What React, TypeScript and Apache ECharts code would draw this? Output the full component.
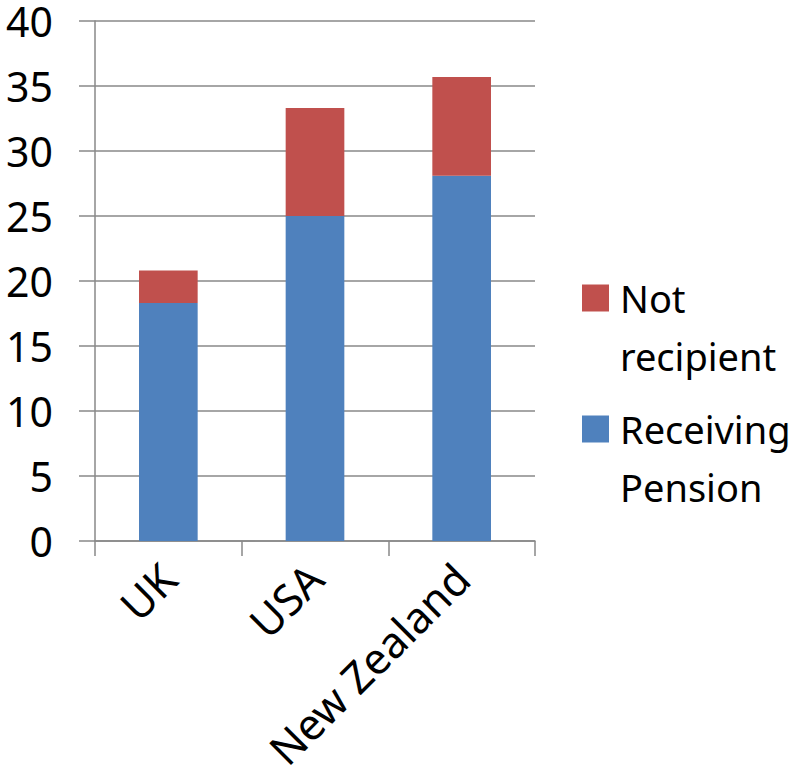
import React, { useEffect, useRef } from "react";
import * as echarts from "echarts";

const categories = ["UK", "USA", "New Zealand"];
const receivingPension = [18.3, 25.0, 28.1];
const notRecipient = [2.5, 8.3, 7.6];
const yTicks = { min: 0, max: 40, interval: 5 };

const FONT = "'Noto Sans', sans-serif";

export default function App() {
  const ref = useRef<HTMLDivElement>(null);
  useEffect(() => {
    if (!ref.current) return;
    const chart = echarts.init(ref.current, undefined, { renderer: "svg" });
    chart.setOption({
      animation: false,
      textStyle: { fontFamily: FONT },
      grid: { left: 95, right: 271, top: 21, bottom: 241, containLabel: false },
      legend: {
        orient: "vertical",
        left: 582,
        top: 211,
        padding: 0,
        itemGap: -43,
        itemWidth: 27,
        itemHeight: 27,
        icon: "rect",
        data: ["Not recipient", "Receiving Pension"],
        formatter: (name: string) => " \n" + name.replace(" ", "\n"),
        textStyle: {
          fontFamily: FONT,
          fontSize: 38,
          color: "#000",
          lineHeight: 58,
          padding: [0, 0, 0, 6],
        },
      },
      xAxis: {
        type: "category",
        data: categories,
        axisLine: { lineStyle: { color: "#888", width: 1.5 } },
        axisTick: { show: true, length: 15, lineStyle: { color: "#888", width: 1.5 } },
        axisLabel: {
          rotate: 45,
          margin: 30,
          fontSize: 43,
          color: "#000",
          fontFamily: FONT,
        },
      },
      yAxis: {
        type: "value",
        min: yTicks.min,
        max: yTicks.max,
        interval: yTicks.interval,
        axisLine: { show: true, lineStyle: { color: "#888", width: 1.5 } },
        axisTick: { show: true, length: 16, lineStyle: { color: "#888", width: 1.5 } },
        splitLine: { lineStyle: { color: "#888", width: 1.5 } },
        axisLabel: {
          margin: 42,
          fontSize: 41,
          lineHeight: 36,
          color: "#000",
          fontFamily: FONT,
        },
      },
      series: [
        {
          name: "Receiving Pension",
          type: "bar",
          stack: "total",
          barWidth: "40%",
          data: receivingPension,
          itemStyle: { color: "#4F81BD" },
        },
        {
          name: "Not recipient",
          type: "bar",
          stack: "total",
          barWidth: "40%",
          data: notRecipient,
          itemStyle: { color: "#C0504D" },
        },
      ],
    });
    return () => chart.dispose();
  }, []);
  return (
    <div
      ref={ref}
      style={{ position: "absolute", left: 0, top: 0, width: 806, height: 782 }}
    />
  );
}
